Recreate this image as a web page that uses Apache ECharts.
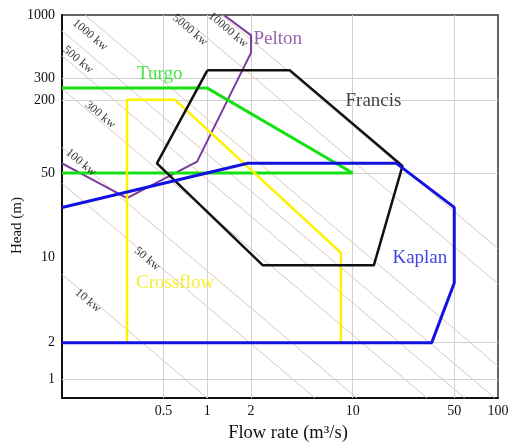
<!DOCTYPE html>
<html>
<head>
<meta charset="utf-8">
<script src="https://cdn.jsdelivr.net/npm/echarts@6/dist/echarts.min.js"></script>
<style>
  html, body { margin: 0; padding: 0; background: #fff; }
  #chart { width: 510px; height: 448px; }
</style>
</head>
<body>
<div id="chart"></div>
<script>
// tick labels and grid lines
const xTicks = [0.5, 1, 2, 10, 50, 100]
const yTicks = [1, 2, 10, 50, 200, 300, 1000]
const xGrid = [0.5, 1, 2, 10, 50]
const yGrid = [1, 2, 50, 200, 300]

// turbine envelopes: [flow m3/s, head m]
const pelton = [[1.3, 1000], [2.0, 680], [2.0, 490], [0.85, 62], [0.28, 31], [0.1, 60]]
const turgo = [[0.1, 250], [1, 250], [10, 50], [0.1, 50]]
const crossflow = [[0.28, 2], [0.28, 200], [0.6, 200], [8.3, 11], [8.3, 2]]
const francis = [[1, 350], [3.7, 350], [22, 57], [14, 8.7], [2.4, 8.7], [0.45, 60], [1, 350]]
const kaplan = [[0.1, 26], [1.9, 60], [20, 60], [50, 26], [50, 6.2], [35, 2], [0.1, 2]]

// constant power lines, start / end points
const powerLines = [
  [[0.1, 7.3], [1.0, 0.7]],
  [[0.1, 41], [5.5, 0.7]],
  [[0.1, 81], [10.7, 0.7]],
  [[0.1, 247], [32.5, 0.7]],
  [[0.1, 461], [59, 0.7]],
  [[0.1, 740], [95, 0.7]],
  [[0.144, 1000], [100, 1.28]],
  [[0.65, 1000], [100, 6.1]],
  [[1.26, 1000], [100, 11.9]],
]
const powerLabels = [
  ["10 kw", 0.151, 4.44],
  ["50 kw", 0.385, 9.8],
  ["100 kw", 0.135, 61],
  ["300 kw", 0.183, 151],
  ["500 kw", 0.129, 428],
  ["1000 kw", 0.156, 685],
  ["5000 kw", 0.76, 754],
  ["10000 kw", 1.39, 754],
]
const turbineNames = [
  ["Pelton", 3.05, 632, "#7a3a9c"],
  ["Turgo", 0.47, 324, "#14e014"],
  ["Francis", 13.9, 195, "#111"],
  ["Kaplan", 29, 10, "#1212e0"],
  ["Crossflow", 0.6, 6.2, "#f2ea00"],
]

const serif = "Liberation Serif"
const chart = echarts.init(document.getElementById("chart"), null, { renderer: "canvas" })

const envelope = (data, color, width) => ({
  type: "line",
  data: data,
  symbol: "none",
  z: 3,
  lineStyle: { color: color, width: width },
})

const tickLabel = { show: true, position: "start", color: "#111", fontSize: 14, fontFamily: serif }

const series = [
  ...powerLines.map((pts) => ({
    type: "line",
    data: pts,
    symbol: "none",
    z: 1,
    lineStyle: { color: "#e3c6b2", width: 1 },
  })),
  {
    type: "line",
    data: [],
    z: 1,
    markLine: {
      z: 1,
      symbol: "none",
      silent: true,
      animation: false,
      data: [
        ...yTicks.map((v) => ({
          yAxis: v,
          lineStyle: { color: yGrid.includes(v) ? "#d2d2d2" : "rgba(0,0,0,0)", width: 1, type: "solid" },
          label: { ...tickLabel, formatter: String(v), distance: 7 },
        })),
        ...xTicks.map((v) => ({
          xAxis: v,
          lineStyle: { color: xGrid.includes(v) ? "#d2d2d2" : "rgba(0,0,0,0)", width: 1, type: "solid" },
          label: { ...tickLabel, formatter: String(v), distance: 6 },
        })),
      ],
    },
  },
  envelope(pelton, "#7a3a9c", 2),
  envelope(turgo, "#14e014", 3),
  envelope(crossflow, "#fff200", 2.5),
  envelope(francis, "#111", 2.5),
  envelope(kaplan, "#1212e0", 3),
  {
    type: "scatter",
    symbolSize: 0,
    z: 4,
    data: powerLabels.map(([t, q, h]) => [q, h, t]),
    label: {
      show: true,
      position: "inside",
      formatter: (p) => p.data[2],
      rotate: -40,
      color: "#000",
      fontSize: 12,
      fontFamily: serif,
    },
  },
  ...turbineNames.map(([t, q, h, c]) => ({
    type: "scatter",
    symbolSize: 0,
    z: 5,
    data: [[q, h, t]],
    label: {
      show: true,
      position: "inside",
      formatter: (p) => p.data[2],
      color: c,
      fontSize: 19,
      fontFamily: serif,
    },
  })),
]

chart.setOption({
  animation: false,
  grid: {
    left: 62,
    right: 12,
    top: 15,
    bottom: 48,
    show: true,
    borderColor: "#333",
    borderWidth: 1.5,
  },
  xAxis: {
    type: "log",
    logBase: 10,
    min: 0.1,
    max: 100,
    name: "Flow rate (m³/s)",
    nameLocation: "middle",
    nameGap: 26,
    nameTextStyle: { fontFamily: serif, fontSize: 18.5, color: "#111", padding: [0, 0, 0, 16] },
    axisLine: { show: true, lineStyle: { color: "#111", width: 2 } },
    axisTick: { show: false },
    axisLabel: { show: false },
    splitLine: { show: false },
  },
  yAxis: {
    type: "log",
    logBase: 10,
    min: 0.7,
    max: 1000,
    name: "Head (m)",
    nameLocation: "middle",
    nameGap: 37,
    nameTextStyle: { fontFamily: serif, fontSize: 15, color: "#111", padding: [0, 38, 0, 0] },
    axisLine: { show: true, lineStyle: { color: "#111", width: 2 } },
    axisTick: { show: false },
    axisLabel: { show: false },
    splitLine: { show: false },
  },
  series: series,
})
</script>
</body>
</html>
